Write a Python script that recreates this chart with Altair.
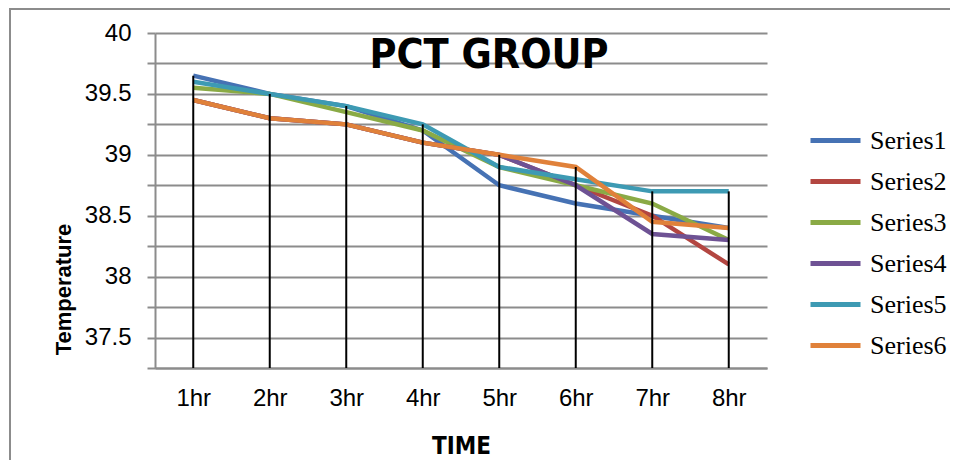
import altair as alt
import pandas as pd

times = ["1hr", "2hr", "3hr", "4hr", "5hr", "6hr", "7hr", "8hr"]
series_names = ["Series1", "Series2", "Series3", "Series4", "Series5", "Series6"]
s1 = [39.65, 39.5, 39.4, 39.2, 38.75, 38.6, 38.5, 38.4]
s2 = [39.45, 39.3, 39.25, 39.1, 39.0, 38.75, 38.5, 38.1]
s3 = [39.55, 39.5, 39.35, 39.2, 38.9, 38.75, 38.6, 38.3]
s4 = [39.45, 39.3, 39.25, 39.1, 39.0, 38.75, 38.35, 38.3]
s5 = [39.6, 39.5, 39.4, 39.25, 38.9, 38.8, 38.7, 38.7]
s6 = [39.45, 39.3, 39.25, 39.1, 39.0, 38.9, 38.45, 38.4]
y_ticks = [37.25, 37.5, 37.75, 38.0, 38.25, 38.5, 38.75, 39.0, 39.25, 39.5, 39.75, 40.0]
colors = ["#4672B4", "#B34641", "#8AAA45", "#6E5294", "#3D9AB3", "#E0813A"]
chart_title = "PCT GROUP"

rows = []
for name, vals in zip(series_names, [s1, s2, s3, s4, s5, s6]):
    for t, v in zip(times, vals):
        rows.append({"time": t, "series": name, "temp": v})
df = pd.DataFrame(rows)

GRAY = "#8C8C8C"
TITLE_FONT = "DejaVu Sans Condensed"

x_enc = alt.X(
    "time:O",
    sort=times,
    scale=alt.Scale(type="point", padding=0.5),
    axis=alt.Axis(
        title="TIME",
        labelAngle=0,
        ticks=False,
        grid=False,
        domainColor=GRAY,
        domainWidth=2,
        labelFont="Liberation Sans",
        labelFontSize=24,
        labelColor="black",
        labelPadding=18,
        titleFont=TITLE_FONT,
        titleFontWeight="bold",
        titleFontSize=24,
        titleColor="black",
        titleBaseline="alphabetic",
        titleY=85,
    ),
)

y_enc = alt.Y(
    "temp:Q",
    scale=alt.Scale(domain=[37.25, 40], nice=False, zero=False),
    axis=alt.Axis(
        values=y_ticks,
        labelExpr="(round(datum.value * 2) == datum.value * 2) ? format(datum.value, '') : ''",
        grid=True,
        gridColor=GRAY,
        gridWidth=2,
        tickSize=8,
        tickColor=GRAY,
        tickWidth=2,
        domainColor=GRAY,
        domainWidth=2,
        labelFont="Liberation Sans",
        labelFontSize=24,
        labelColor="black",
        labelPadding=16,
        title="Temperature",
        titleFont="Liberation Sans",
        titleFontWeight="bold",
        titleFontSize=22,
        titleColor="black",
        titleAngle=-90,
        titleAlign="center",
        titleBaseline="middle",
        titleX=-92,
        titleY=256,
    ),
)

border = alt.Chart(pd.DataFrame({"a": [0]})).mark_rect(
    fill=None, stroke=GRAY, strokeWidth=2
).encode(
    x=alt.value(-145), x2=alt.value(830), y=alt.value(-24), y2=alt.value(520)
)

lines = alt.Chart(df).mark_line(strokeWidth=4.5).encode(
    x=x_enc,
    y=y_enc,
    color=alt.Color(
        "series:N",
        scale=alt.Scale(domain=series_names, range=colors),
        legend=alt.Legend(
            title=None,
            orient="none",
            legendX=653,
            legendY=80,
            symbolType="stroke",
            symbolSize=2500,
            symbolStrokeWidth=5,
            labelFont="Liberation Serif",
            labelFontSize=26,
            labelColor="black",
            labelOffset=7,
            rowPadding=0,
        ),
    ),
    detail="series:N",
)

drops = alt.Chart(df).transform_aggregate(
    temp="max(temp)", groupby=["time"]
).mark_rule(color="black", strokeWidth=2).encode(
    x=x_enc,
    y=y_enc,
    y2=alt.datum(37.25),
)

title_text = alt.Chart(pd.DataFrame({"t": [chart_title]})).mark_text(
    font=TITLE_FONT,
    fontWeight="bold",
    fontSize=41,
    color="black",
    align="center",
    baseline="alphabetic",
).encode(
    text="t:N",
    x=alt.value(334),
    y=alt.value(35),
)

chart = alt.layer(border, lines, drops, title_text).properties(
    width=612,
    height=335,
    autosize=alt.AutoSizeParams(type="none"),
    padding={"left": 147, "top": 25, "right": 183, "bottom": 92},
).configure_view(stroke=None)

chart.save("out.html", embed_options={"renderer": "svg", "actions": False})
